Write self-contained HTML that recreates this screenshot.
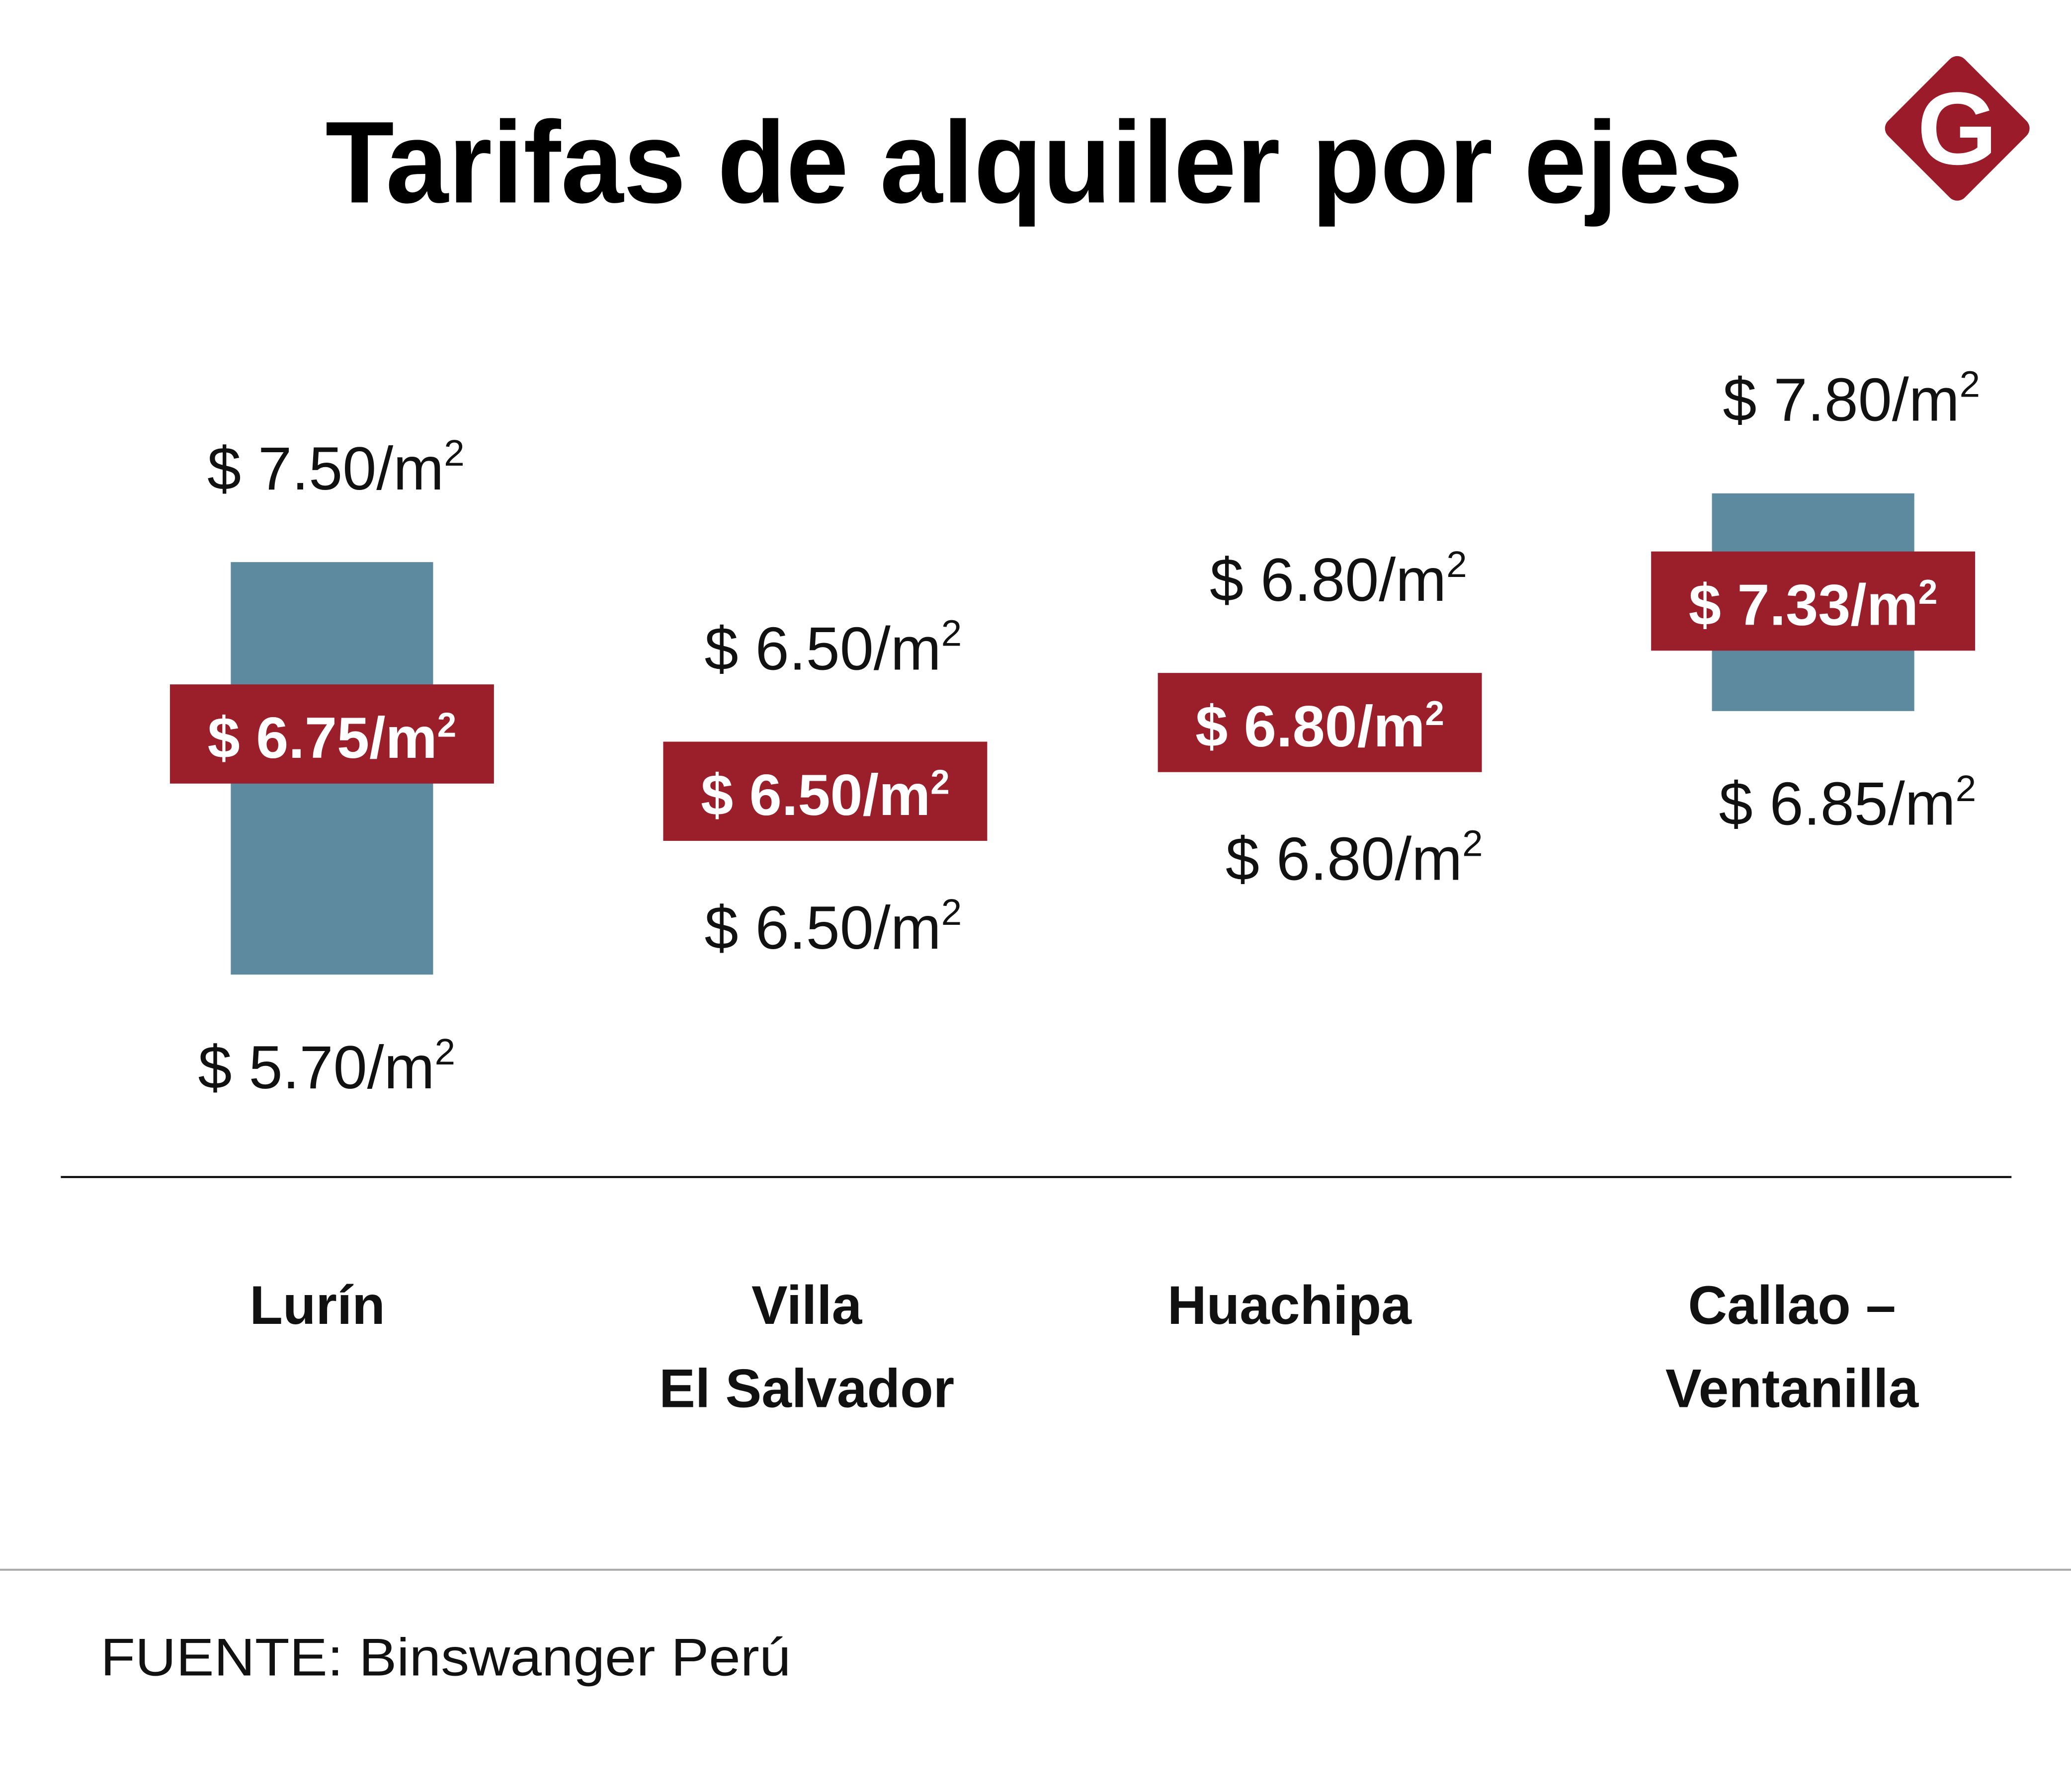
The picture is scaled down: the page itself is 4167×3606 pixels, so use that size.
<!DOCTYPE html>
<html><head><meta charset="utf-8"><style>
html,body{margin:0;padding:0;background:#fff}
svg{display:block}
text{font-family:"Liberation Sans",sans-serif}
</style></head><body>
<svg id="chart" width="4167" height="3606" viewBox="0 0 1566 1355" xmlns="http://www.w3.org/2000/svg">
<rect width="1566" height="1355" fill="#fff"/>
<text x="782" y="153" text-anchor="middle" font-size="88" font-weight="900" textLength="1072" lengthAdjust="spacingAndGlyphs" fill="#000">Tarifas de alquiler por ejes</text>
<g>
<rect x="1439" y="56" width="82" height="82" rx="8" transform="rotate(45 1480 97)" fill="#9b1b2a"/>
<text x="1480" y="124" text-anchor="middle" font-family="Liberation Serif,serif" font-size="78" font-weight="bold" fill="#fff">G</text>
</g>
<line x1="46" y1="890" x2="1521" y2="890" stroke="#000" stroke-width="1.5"/>
<line x1="0" y1="1187" x2="1566" y2="1187" stroke="#aaa" stroke-width="1.5"/>
<text x="76" y="1267" font-size="40" textLength="522" lengthAdjust="spacingAndGlyphs" fill="#111">FUENTE: Binswanger Perú</text>
<g id="marks"></g>
</svg>
<script>
const categories = [["Lurín"], ["Villa", "El Salvador"], ["Huachipa"], ["Callao –", "Ventanilla"]];
const minValues = [5.70, 6.50, 6.80, 6.85];
const maxValues = [7.50, 6.50, 6.80, 7.80];
const avgValues = [6.75, 6.50, 6.80, 7.33];

const colX = [251, 624, 998, 1371];
const topLabelX = [254, 630, 1012, 1400];
const botLabelX = [247, 630, 1024, 1397];
const catX = [240, 610, 975, 1355];
const y = v => 425 - (v - 7.5) * 173.3;
const NS = "http://www.w3.org/2000/svg";
const g = document.getElementById('marks');
function mk(tag, attrs, parent){const e=document.createElementNS(NS,tag);for(const k in attrs)e.setAttribute(k,attrs[k]);(parent||g).appendChild(e);return e;}
function priceText(x, yy, v, bold, color, name){
  const t = mk('text', {x:x, y:yy, 'text-anchor':'middle', 'font-size': bold?44:46, 'font-weight': bold?'bold':'normal', fill: color});
  
  
  const a = document.createElementNS(NS,'tspan'); a.textContent = '$ ' + v.toFixed(2) + '/m'; t.appendChild(a);
  const s = document.createElementNS(NS,'tspan'); s.setAttribute('font-size', bold?26:28); s.setAttribute('dy', bold?-16:-18); s.textContent='2'; t.appendChild(s);
  return t;
}
categories.forEach((c,i)=>{
  const cx = colX[i];
  const yt = y(maxValues[i]), yb = y(minValues[i]), ym = y(avgValues[i]);
  if (yb - yt > 1) {
    const r = mk('rect', {x:cx-76.5, y:yt, width:153, height:yb-yt, fill:'#5e8aa0'});
    
    
  }
  const rr = mk('rect', {x:cx-122.5, y:ym-37.5, width:245, height:75, fill:'#9b1f2b'});
  
  
  priceText(cx, ym+18, avgValues[i], true, '#fff', 'average-value');
  const topB = Math.min(yt, ym-37) - 55;
  const botB = Math.max(yb, ym+37) + 86;
  priceText(topLabelX[i], topB, maxValues[i], false, '#111', 'max-value');
  priceText(botLabelX[i], (yb - yt > 1) ? botB : botB - 4, minValues[i], false, '#111', 'min-value');
  c.forEach((line,j)=>{
    const t = mk('text', {x:catX[i], y:1001+j*63, 'text-anchor':'middle', 'font-size':41, 'font-weight':'bold', fill:'#111'});
    
    
    t.textContent = line;
  });
});
</script>
</body></html>
